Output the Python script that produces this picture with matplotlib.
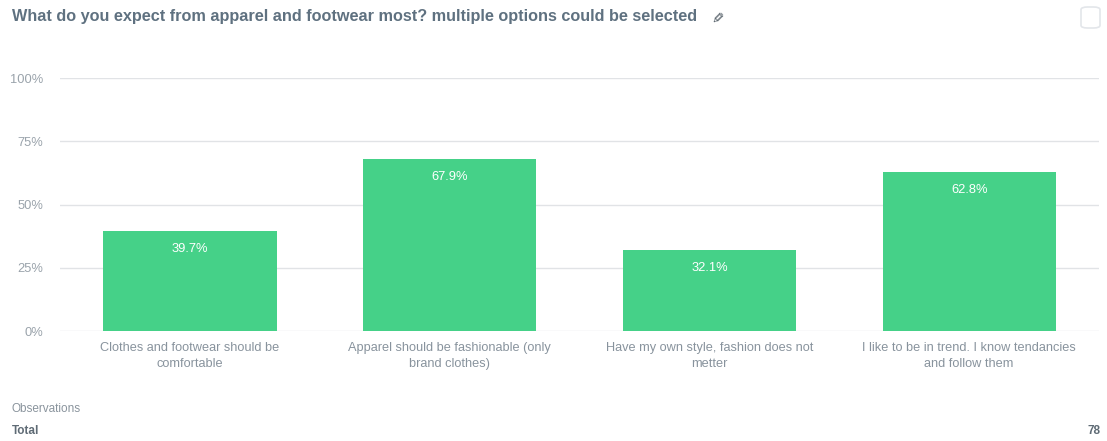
import matplotlib.pyplot as plt
from matplotlib.patches import FancyBboxPatch

plt.rcParams['font.family'] = ['Liberation Sans', 'DejaVu Sans']

# survey answers (share of respondents, %)
categories = [
    "Clothes and footwear should be\ncomfortable",
    "Apparel should be fashionable (only\nbrand clothes)",
    "Have my own style, fashion does not\nmetter",
    "I like to be in trend. I know tendancies\nand follow them",
]
shares = [39.7, 67.9, 32.1, 62.8]
yticks = [0, 25, 50, 75, 100]
total_obs = 78

bar_color = '#45d188'
title_color = '#5f7180'
tick_color = '#9aa3ab'

fig = plt.figure(figsize=(11.07, 4.41), dpi=100)
ax = fig.add_axes([0.0542, 0.2494, 0.9386, 0.5737])

x = range(len(categories))
bars = ax.bar(x, shares, width=0.667, color=bar_color, zorder=2)
for b, v in zip(bars, shares):
    ax.annotate(f"{v}%", (b.get_x() + b.get_width() / 2, v),
                xytext=(0, -13), textcoords='offset points',
                ha='center', va='center', color='white', fontsize=9.3)

ax.set_xlim(-0.5, 3.5)
ax.set_ylim(0, 100)
ax.set_yticks(yticks)
ax.set_yticklabels([f"{t}%" for t in yticks])
ax.set_xticks(list(x))
ax.set_xticklabels(categories, fontsize=9.2, color='#88939d', linespacing=1.38)
ax.tick_params(axis='x', length=0, pad=8)
ax.tick_params(axis='y', length=0, pad=12, labelsize=9.3, labelcolor=tick_color)
ax.grid(axis='y', color='#e1e3e6', linewidth=1, zorder=0)
for s in ax.spines.values():
    s.set_visible(False)

# header
fig.text(12 / 1107, 1 - 17 / 441, "What do you expect from apparel and footwear most? multiple options could be selected",
         fontsize=11.7, fontweight='bold', color=title_color, va='center', ha='left')
fig.text(716 / 1107, 1 - 16 / 441, "\u270f", fontsize=11, color='#4f5a63', rotation=225,
         va='center', ha='center', family='DejaVu Sans')
fig.patches.append(FancyBboxPatch((1081 / 1107, 1 - 28 / 441), 19 / 1107, 21 / 441,
                                  boxstyle='round,pad=0,rounding_size=0.006',
                                  transform=fig.transFigure, facecolor='white',
                                  edgecolor='#e3e6ea', linewidth=1.2))

# footer
fig.text(12 / 1107, 1 - 409 / 441, "Observations", fontsize=8.5, color='#8a949d', va='center')
fig.text(12 / 1107, 1 - 431 / 441, "Total", fontsize=8.5, fontweight='bold', color='#5f6b75', va='center')
fig.text(1100 / 1107, 1 - 431 / 441, str(total_obs), fontsize=8.5, fontweight='bold',
         color='#5f6b75', va='center', ha='right')

fig.savefig('out.png', dpi=100, facecolor='white')
